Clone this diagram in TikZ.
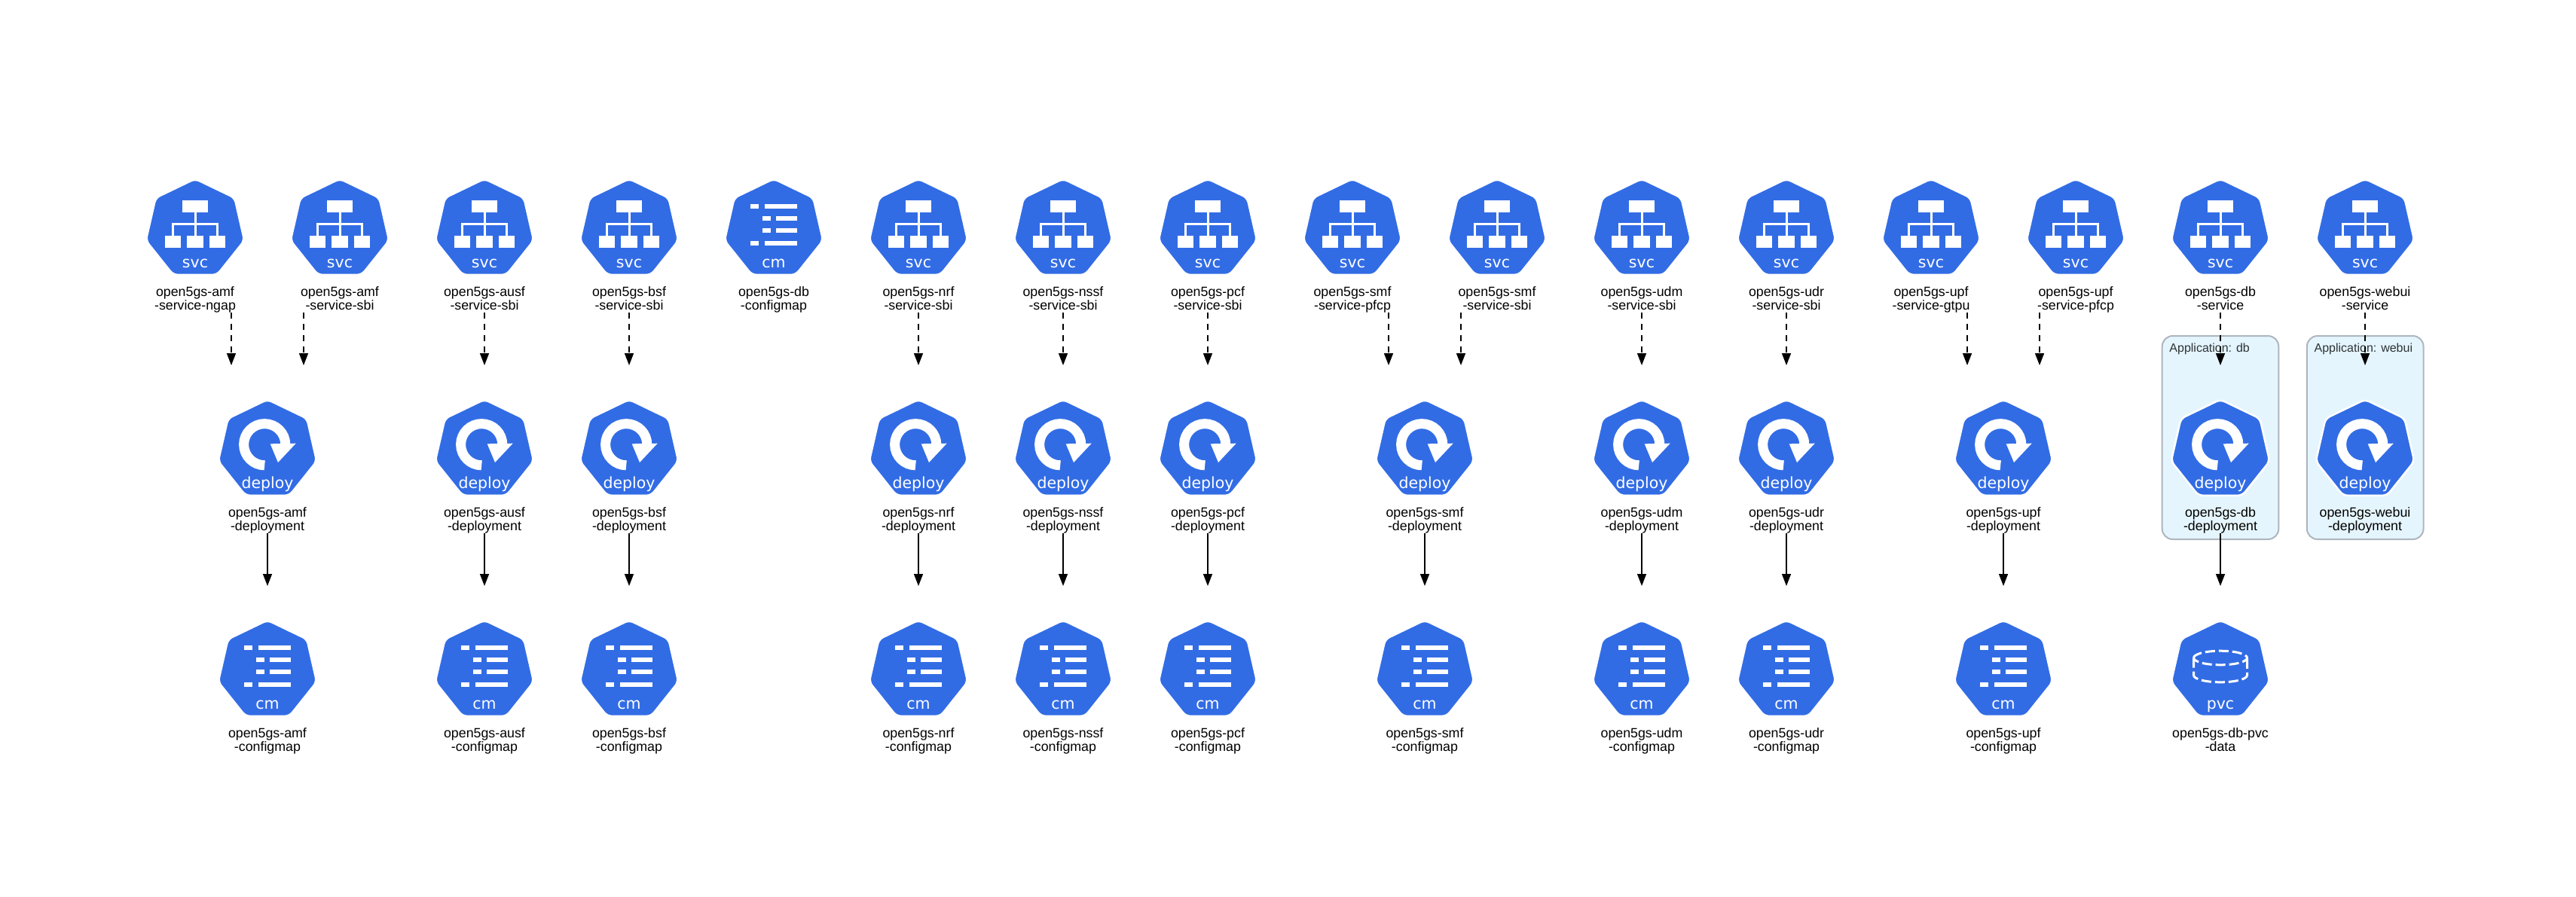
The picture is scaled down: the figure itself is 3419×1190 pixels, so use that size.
\documentclass[tikz,border=0pt]{standalone}
\usepackage{fontspec}
\setmainfont{Liberation Sans}
\newfontfamily\kindfont{DejaVu Sans}
\usetikzlibrary{shapes.geometric,positioning,arrows.meta}

\definecolor{kubeblue}{HTML}{326CE5}
\definecolor{appfill}{HTML}{E5F5FD}
\definecolor{appline}{HTML}{AEB6BE}
\definecolor{appink}{HTML}{2D3436}

\tikzset{
  kube/.style={regular polygon, regular polygon sides=7, minimum size=67pt,
    inner sep=0pt, outer sep=0pt, fill=kubeblue, draw=white, line width=1.25pt,
    rounded corners=3pt},
  kubelabel/.style={align=center, inner sep=0pt, outer sep=0pt,
    font=\fontsize{8.9}{8.65}\selectfont},
  kindtext/.style={anchor=base, inner sep=0pt, text=white,
    font=\kindfont\fontsize{10.25}{12}\selectfont},
  appbox/.style={draw=appline, fill=appfill, line width=1pt, rounded corners=7pt,
    minimum width=77.3pt, minimum height=135pt},
  applabel/.style={anchor=base west, inner sep=0pt, text=appink,
    font=\fontsize{8}{9}\selectfont},
  svclink/.style={-{Triangle[width=6pt,length=8pt]}, line width=.75pt,
    dash pattern=on 4pt off 3.5pt},
  uselink/.style={-{Triangle[width=6pt,length=8pt]}, line width=.75pt,
    shorten >=22.75pt},
  svcicon/.pic={
    \fill[white] (-17,-38.5) rectangle (17,-22.5);
    \foreach \a in {-40.3,-10.7,18.7}
      \fill[white] (\a,8) rectangle ++(21.6,16);
    \draw[white,line width=1.5pt] (0,-22.5) -- (0,8)
      (-29.5,8) -- (-29.5,-7) -- (29.5,-7) -- (29.5,8);
    \node[kindtext] (-kind) at (0,51) {svc};
  },
  depicon/.pic={
    \draw[white,line width=6.5pt] (-3.8,20.3) arc[start angle=90, end angle=360, radius=27.6];
    \fill[white] (3.7,-8.2) -- (37.7,-8.8) -- (14,16.5) -- cycle;
    \node[kindtext] (-kind) at (0,51) {deploy};
  },
  cmicon/.pic={
    \foreach \a/\b/\c in {-33.5/-31/-12.3, -17.2/-15.3/3.3, -1.2/-15.3/3.3, 15/-31/-12.3} {
      \fill[white] (\b,\a) rectangle ++(11,6);
      \fill[white] (\c,\a) rectangle (31,\a+6);
    }
    \node[kindtext] (-kind) at (0,51) {cm};
  },
  pvcicon/.pic={
    \draw[white,line width=1.5pt,dash pattern=on 6.5pt off 2.5pt]
      (-35.5,-17) arc[start angle=180, end angle=540, x radius=35.5, y radius=9.3];
    \draw[white,line width=1.5pt,dash pattern=on 6.5pt off 2.5pt]
      (-35.5,-17) -- (-35.5,6) arc[start angle=180, end angle=0, x radius=35.5, y radius=9.3] -- (35.5,-17);
    \node[kindtext] (-kind) at (0,51) {pvc};
  },
}

% name, x, y, icon, label
\newcommand{\kubenode}[5]{
  \node[kube] (#1) at (#2,#3) {};
  \pic (#1) at (#2,#3) {#4};
  \node[kubelabel, below=8pt of #1] (#1-label) {#5\vphantom{p}};
}

\begin{document}
\begin{tikzpicture}[x=.5pt, y=-.5pt]
  \useasboundingbox (0,0) rectangle (3419,1190);

  \node[appbox] (app-db) at (2947,581) {};
  \node[appbox] (app-webui) at (3139.2,581) {};
  \node[applabel] (app-db-label) at ([shift={(10.3,22)}]app-db.north west) {Application: db};
  \node[applabel] (app-webui-label) at ([shift={(10.3,22)}]app-webui.north west) {Application: webui};

  % services
  \foreach \n/\x/\one/\two in {
      amf-ngap/259/amf/service-ngap, amf-sbi/451/amf/service-sbi,
      ausf-sbi/643/ausf/service-sbi, bsf-sbi/835/bsf/service-sbi,
      nrf-sbi/1219/nrf/service-sbi, nssf-sbi/1411/nssf/service-sbi,
      pcf-sbi/1603/pcf/service-sbi, smf-pfcp/1795/smf/service-pfcp,
      smf-sbi/1987/smf/service-sbi, udm-sbi/2179/udm/service-sbi,
      udr-sbi/2371/udr/service-sbi, upf-gtpu/2563/upf/service-gtpu,
      upf-pfcp/2755/upf/service-pfcp, db-svc/2947/db/service,
      webui-svc/3139/webui/service} {
    \kubenode{svc-\n}{\x}{304.5}{svcicon}{open5gs-\one\\-\two}
  }
  \kubenode{cm-db}{1027}{304.5}{cmicon}{open5gs-db\\-configmap}

  % deployments
  \foreach \n/\x in {amf/355, ausf/643, bsf/835, nrf/1219, nssf/1411, pcf/1603,
      smf/1891, udm/2179, udr/2371, upf/2659, db/2947, webui/3139} {
    \kubenode{dep-\n}{\x}{597.5}{depicon}{open5gs-\n\\-deployment}
  }

  % configmaps
  \foreach \n/\x in {amf/355, ausf/643, bsf/835, nrf/1219, nssf/1411, pcf/1603,
      smf/1891, udm/2179, udr/2371, upf/2659} {
    \kubenode{cm-\n}{\x}{890.5}{cmicon}{open5gs-\n\\-configmap}
    \draw[uselink] (dep-\n-label.south) -- (cm-\n.north);
  }
  \kubenode{pvc-db}{2947}{890.5}{pvcicon}{open5gs-db-pvc\\-data}
  \draw[uselink] (dep-db-label.south) -- (pvc-db.north);

  % service to deployment
  \foreach \n/\x in {amf-ngap/307, amf-sbi/403, ausf-sbi/643, bsf-sbi/835,
      nrf-sbi/1219, nssf-sbi/1411, pcf-sbi/1603, smf-pfcp/1843, smf-sbi/1939,
      udm-sbi/2179, udr-sbi/2371, upf-gtpu/2611, upf-pfcp/2707, db-svc/2947,
      webui-svc/3139} {
    \coordinate (\n-in) at (\x,485);
    \draw[svclink] (\n-in |- svc-\n-label.south) -- (\n-in);
  }
\end{tikzpicture}
\end{document}
